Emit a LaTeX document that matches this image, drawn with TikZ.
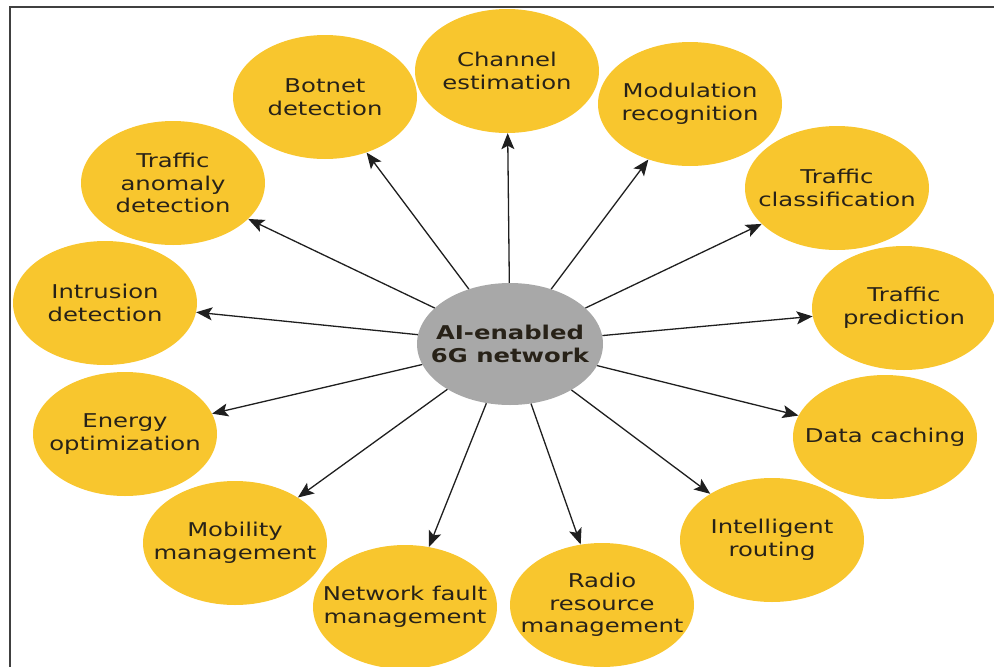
\documentclass[tikz,border=0pt]{standalone}
\usepackage{fontspec}
\setmainfont{DejaVu Sans}[FakeStretch=1.28]
\usetikzlibrary{shapes.geometric,arrows.meta}
\definecolor{gold}{RGB}{248,198,46}
\definecolor{midgray}{RGB}{168,168,168}
\definecolor{txt}{RGB}{40,34,24}
\begin{document}
\begin{tikzpicture}[x=1pt,y=-1pt,
  leaf/.style={ellipse, fill=gold, minimum width=184pt, minimum height=124pt, inner sep=0pt},
  hubshape/.style={ellipse, fill=midgray, minimum width=186pt, minimum height=122pt, inner sep=0pt},
  lbl/.style={align=center, text=txt, inner sep=0pt, font=\fontsize{19}{22.5}\selectfont},
  hublbl/.style={align=center, text=txt, inner sep=0pt, font=\fontsize{19}{23}\selectfont\bfseries},
  link/.style={-{Stealth[length=16pt,width=13pt,inset=3.5pt]}, line width=1.3pt, draw=black!88}]
\useasboundingbox (0,0) rectangle (994,667);
\draw[line width=2.2pt, draw=black!75] (10,667) -- (10,7) -- (994,7);

\node[hubshape] (hub) at (510,344) {};
\node[hublbl] (hubt) at (hub) {AI-enabled\\6G network};

\node[leaf] (ch)  at (507,71)  {};
\node[leaf] (bot) at (325,97)  {};
\node[leaf] (mod) at (690,104) {};
\node[leaf] (tcl) at (837,188) {};
\node[leaf] (tpr) at (904,308) {};
\node[leaf] (dca) at (885,437) {};
\node[leaf] (iro) at (772,540) {};
\node[leaf] (rrm) at (602,605) {};
\node[leaf] (nfm) at (405,607) {};
\node[leaf] (mob) at (235,543) {};
\node[leaf] (ene) at (125,434) {};
\node[leaf] (ids) at (105,303) {};
\node[leaf] (tad) at (173,183) {};

\node[lbl] (cht)  at (ch)  {Channel\\estimation};
\node[lbl] (bott) at (bot) {Botnet\\detection};
\node[lbl] (modt) at (mod) {Modulation\\recognition};
\node[lbl] (tclt) at (tcl) {Traffic\\classification};
\node[lbl] (tprt) at (tpr) {Traffic\\prediction};
\node[lbl] (dcat) at (dca) {Data caching};
\node[lbl] (irot) at (iro) {Intelligent\\routing};
\node[lbl] (rrmt) at (rrm) {Radio\\resource\\management};
\node[lbl] (nfmt) at (nfm) {Network fault\\management};
\node[lbl] (mobt) at (mob) {Mobility\\management};
\node[lbl] (enet) at (ene) {Energy\\optimization};
\node[lbl] (idst) at (ids) {Intrusion\\detection};
\node[lbl] (tadt) at (tad) {Traffic\\anomaly\\detection};

\foreach \t in {ch,bot,mod,tcl,tpr,dca,iro,rrm,nfm,mob,ene,ids,tad}
  \draw[link] (hub) -- (\t);
\end{tikzpicture}
\end{document}
